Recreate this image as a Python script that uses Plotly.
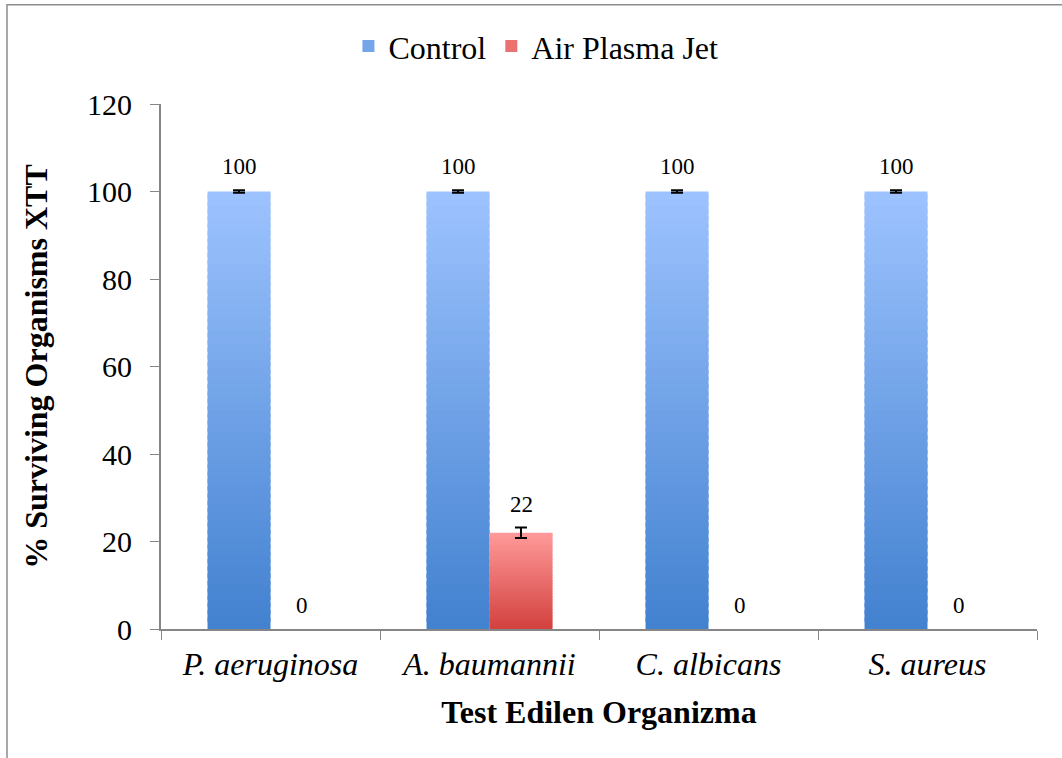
import plotly.graph_objects as go

# Data
categories = ["P. aeruginosa", "A. baumannii", "C. albicans", "S. aureus"]
control = [100, 100, 100, 100]
control_err = [0.3, 0.3, 0.3, 0.3]
plasma = [0, 22, 0, 0]
plasma_err = [0, 1.2, 0, 0]
y_ticks = [0, 20, 40, 60, 80, 100, 120]

FONT = "Liberation Serif"

series = [
    dict(name="Control", values=control, errors=control_err,
         top=(157, 195, 255), bottom=(66, 129, 207)),
    dict(name="Air Plasma Jet", values=plasma, errors=plasma_err,
         top=(255, 154, 154), bottom=(210, 65, 62)),
]

N_SEG = 60  # slices per bar used for the vertical gradient fill


def mix(c0, c1, t):
    r, g, b = (round(a + (b_ - a) * t) for a, b_ in zip(c0, c1))
    return f"rgb({r},{g},{b})"


fig = go.Figure()

for s in series:
    vals = s["values"]
    for i in range(N_SEG):
        # each slice overlaps the next a little so no seams show
        base = [v * i / N_SEG for v in vals]
        height = [min(v * (i + 1.6) / N_SEG, v) - v * i / N_SEG for v in vals]
        color = mix(s["bottom"], s["top"], (i + 0.5) / N_SEG)
        fig.add_trace(go.Bar(
            x=categories, y=height, base=base,
            offsetgroup=s["name"], showlegend=False, hoverinfo="skip",
            marker=dict(color=color, line=dict(width=0))))
    # error bars on non-zero bars only
    fig.add_trace(go.Bar(
        x=categories, y=[v if v > 0 else None for v in vals],
        offsetgroup=s["name"], showlegend=False, hoverinfo="skip",
        marker=dict(color="rgba(0,0,0,0)", line=dict(width=0)),
        error_y=dict(type="data", array=s["errors"], visible=True,
                     color="black", thickness=2, width=6)))
    # legend entry
    fig.add_trace(go.Bar(
        x=[categories[0]], y=[0], name=s["name"], offsetgroup=s["name"],
        marker=dict(color=mix(s["bottom"], s["top"], 0.55), line=dict(width=0)),
        hoverinfo="skip"))

# value labels above each bar
BAR_PX = 63
for k, s in enumerate(series):
    shift = -BAR_PX / 2 if k == 0 else BAR_PX / 2
    for cat, v, e in zip(categories, s["values"], s["errors"]):
        fig.add_annotation(
            x=cat, y=v + (e if v > 0 else 0), xref="x", yref="y",
            text=str(v), showarrow=False, xshift=shift, yshift=9,
            yanchor="bottom", font=dict(family=FONT, size=23, color="black"))

# outer chart frame
fig.add_shape(type="rect", xref="paper", yref="paper",
              x0=-0.1758, x1=1.2, y0=-0.4, y1=1.189,
              line=dict(color="#8c8c8c", width=1.5), fillcolor="rgba(0,0,0,0)",
              layer="below")

fig.update_layout(
    width=1062, height=758,
    margin=dict(l=161, r=25, t=104, b=129),
    paper_bgcolor="white", plot_bgcolor="white",
    barmode="group", bargap=0.425, bargroupgap=0,
    font=dict(family=FONT, color="black"),
    legend=dict(orientation="h", x=0.428, xanchor="center", y=1.11,
                yanchor="middle", font=dict(family=FONT, size=32),
                itemwidth=30, tracegroupgap=0),
    xaxis=dict(
        type="category", tickmode="array", tickvals=categories,
        ticktext=[f"<i>{c}</i>" for c in categories],
        tickson="boundaries", ticks="outside", ticklen=9, tickcolor="#868686",
        showline=True, linecolor="#868686", linewidth=2, showgrid=False,
        tickfont=dict(family=FONT, size=32), ticklabelstandoff=6,
        title=dict(text="<b>Test Edilen Organizma</b>", standoff=19,
                   font=dict(family=FONT, size=32)),
    ),
    yaxis=dict(
        range=[0, 120], tickmode="array", tickvals=y_ticks,
        ticks="outside", ticklen=9, tickcolor="#868686",
        showline=True, linecolor="#868686", linewidth=2,
        showgrid=False, zeroline=False,
        tickfont=dict(family=FONT, size=30), ticklabelstandoff=12,
        title=dict(text="<b>% Surviving Organisms XTT</b>", standoff=30,
                   font=dict(family=FONT, size=32)),
    ),
)

fig.write_html("out.html")
